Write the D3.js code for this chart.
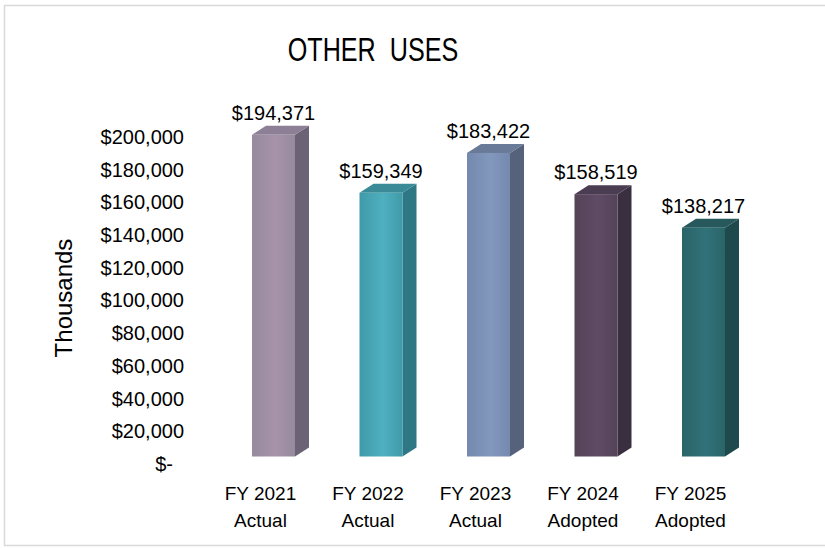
<!DOCTYPE html>
<html>
<head>
<meta charset="utf-8">
<script src="https://cdn.jsdelivr.net/npm/d3@7"></script>
<style>
  body { margin: 0; background: #fff; }
  svg text { font-family: "Liberation Sans", Arial, sans-serif; fill: #000; }
</style>
</head>
<body>
<svg id="chart" width="825" height="548"></svg>
<script>
// data
var years = ["FY 2021", "FY 2022", "FY 2023", "FY 2024", "FY 2025"];
var stage = ["Actual", "Actual", "Actual", "Adopted", "Adopted"];
var otherUses = [194371, 159349, 183422, 158519, 138217];
var tickValues = [0, 20000, 40000, 60000, 80000, 100000, 120000, 140000, 160000, 180000, 200000];

// face colours per bar: front-edge, front-mid, side, top
var barColors = [
  ["#968a9c", "#a793ab", "#6c6275", "#8d7f95"],
  ["#3f9aa9", "#4fb0bf", "#2e7784", "#3a8a97"],
  ["#7489ad", "#8398bd", "#56627b", "#697a98"],
  ["#544358", "#5f4b65", "#3a2f40", "#4a3c51"],
  ["#2a6468", "#317279", "#1e4a4e", "#26585c"]
];

var svg = d3.select("#chart");

// chart border
svg.append("rect")
  .attr("x", 4.5).attr("y", 5.5)
  .attr("width", 822).attr("height", 540)
  .attr("fill", "#fff")
  .attr("stroke", "#d9d9d9")
  .attr("stroke-width", 1.5);

// title (narrow look, double space kept)
svg.append("text")
  .attr("transform", "translate(373,61) scale(0.74,1)")
  .attr("text-anchor", "middle")
  .style("font-size", "34px")
  .style("white-space", "pre")
  .text("OTHER  USES");

var x = d3.scaleBand()
  .domain(years)
  .range([219.75, 757.25])
  .paddingInner(0.6)
  .paddingOuter(0.3);

// axis labels sit on the back wall, bar fronts are a bit lower
var yAxisScale = d3.scaleLinear().domain([0, 200000]).range([464, 137]);
var yFront = d3.scaleLinear().domain([0, 200000]).range([456.5, 125.5]);

var depthX = 14, depthY = -9;

var yAxis = d3.axisLeft(yAxisScale)
  .tickValues(tickValues)
  .tickSize(0)
  .tickPadding(0)
  .tickFormat(function(d) { return d === 0 ? "$-" : "$" + d3.format(",")(d); });

var gy = svg.append("g")
  .attr("transform", "translate(184,0)")
  .call(yAxis);
gy.select(".domain").remove();
gy.selectAll("text")
  .style("font-size", "20px")
  .style("font-family", "Liberation Sans, Arial, sans-serif")
  .attr("fill", "#000")
  .attr("dx", function(d) { return d === 0 ? -11 : 0; });

svg.append("text")
  .attr("transform", "translate(72,298) rotate(-90)")
  .attr("text-anchor", "middle")
  .style("font-size", "24px")
  .text("Thousands");

var defs = svg.append("defs");
barColors.forEach(function(c, i) {
  var g = defs.append("linearGradient")
    .attr("id", "front" + i)
    .attr("x1", "0%").attr("x2", "100%");
  g.append("stop").attr("offset", "0%").attr("stop-color", c[0]);
  g.append("stop").attr("offset", "55%").attr("stop-color", c[1]);
  g.append("stop").attr("offset", "100%").attr("stop-color", c[0]);
});

var bars = svg.selectAll(".bar")
  .data(otherUses)
  .enter().append("g")
  .attr("class", "bar");

// side face
bars.append("polygon")
  .attr("points", function(d, i) {
    var x1 = x(years[i]) + x.bandwidth(), yt = yFront(d), yb = yFront(0);
    return [[x1, yt], [x1 + depthX, yt + depthY], [x1 + depthX, yb + depthY], [x1, yb]].join(" ");
  })
  .attr("fill", function(d, i) { return barColors[i][2]; });

// top face
bars.append("polygon")
  .attr("points", function(d, i) {
    var x0 = x(years[i]), x1 = x0 + x.bandwidth(), yt = yFront(d);
    return [[x0, yt], [x0 + depthX, yt + depthY], [x1 + depthX, yt + depthY], [x1, yt]].join(" ");
  })
  .attr("fill", function(d, i) { return barColors[i][3]; });

// front face
bars.append("rect")
  .attr("x", function(d, i) { return x(years[i]); })
  .attr("y", function(d) { return yFront(d); })
  .attr("width", x.bandwidth())
  .attr("height", function(d) { return yFront(0) - yFront(d); })
  .attr("fill", function(d, i) { return "url(#front" + i + ")"; });

// value labels
bars.append("text")
  .attr("x", function(d, i) { return x(years[i]) + x.bandwidth() / 2; })
  .attr("y", function(d) { return yFront(d) - 15; })
  .attr("text-anchor", "middle")
  .style("font-size", "20px")
  .text(function(d) { return "$" + d3.format(",")(d); });

// category labels, two lines
var cats = svg.selectAll(".cat")
  .data(years)
  .enter().append("text")
  .attr("class", "cat")
  .attr("text-anchor", "middle")
  .attr("transform", function(d) { return "translate(" + (x(d) + x.bandwidth() / 2 - 13) + ",500)"; })
  .style("font-size", "19px");
cats.append("tspan").attr("x", 0).attr("y", 0).text(function(d) { return d; });
cats.append("tspan").attr("x", 0).attr("y", 27).text(function(d, i) { return stage[i]; });
</script>
</body>
</html>
